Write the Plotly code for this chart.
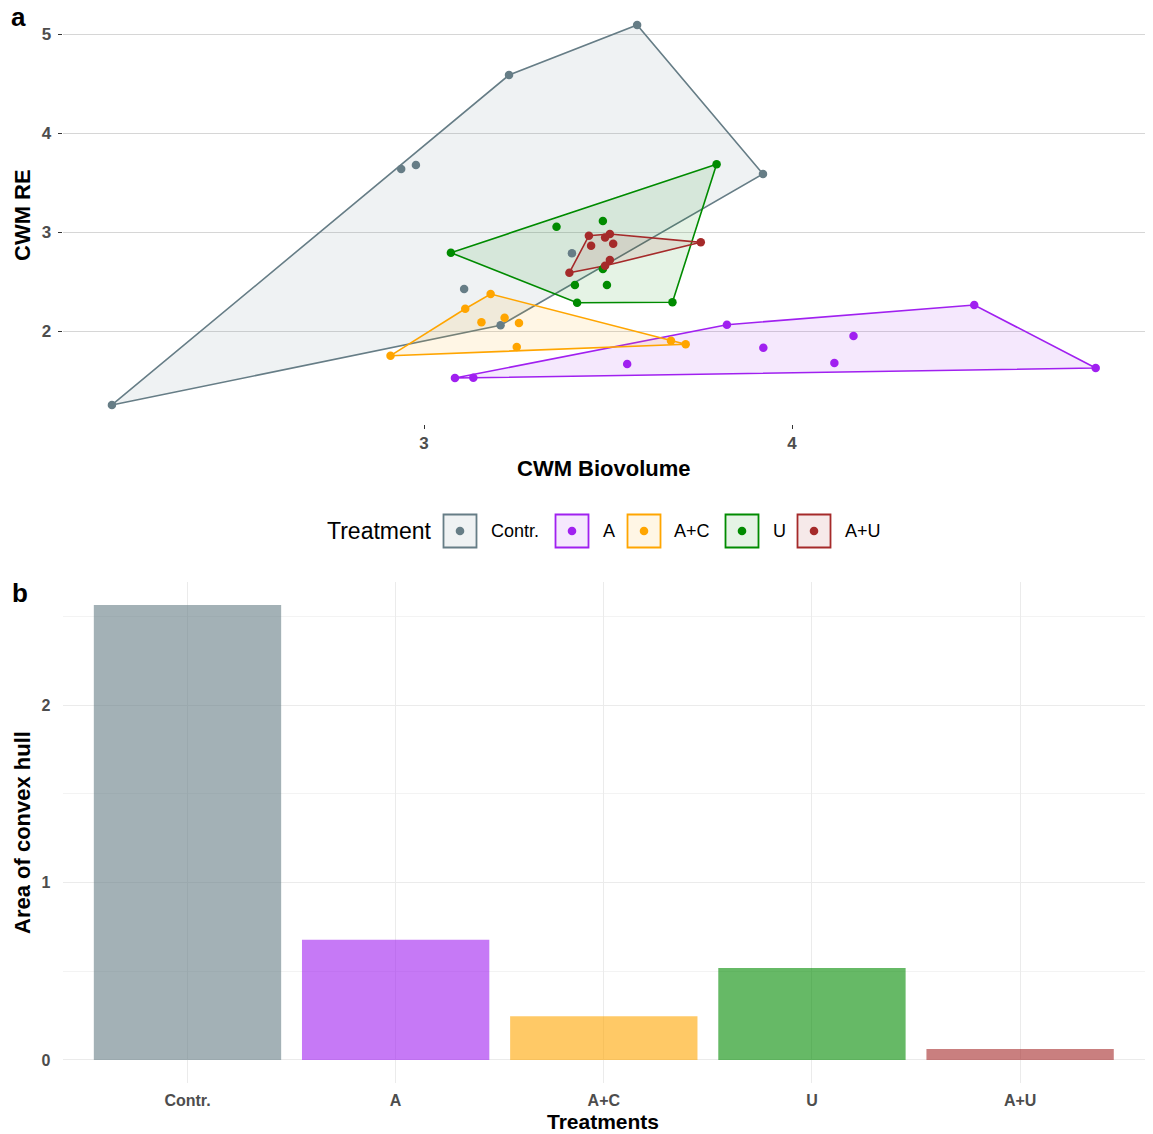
import plotly.graph_objects as go

# ---- data -------------------------------------------------------------
treatments = ["Contr.", "A", "A+C", "U", "A+U"]
colors = ["#667D86", "#A020F0", "#FFA500", "#008B00", "#A52A2A"]

ctrl_x = [2.152, 2.938, 2.978, 3.231, 3.579, 3.921, 3.109, 3.402, 3.208]
ctrl_y = [1.253, 3.636, 3.677, 4.586, 5.091, 3.586, 2.424, 2.785, 2.058]

a_x = [3.084, 3.134, 3.823, 3.552, 3.922, 4.115, 4.167, 4.495, 4.825]
a_y = [1.525, 1.528, 2.064, 1.667, 1.831, 1.677, 1.949, 2.263, 1.626]

ac_x = [2.909, 3.112, 3.181, 3.156, 3.219, 3.258, 3.252, 3.671, 3.711]
ac_y = [1.751, 2.225, 2.374, 2.088, 2.134, 2.081, 1.838, 1.903, 1.866]

u_x = [3.073, 3.795, 3.360, 3.486, 3.410, 3.497, 3.416, 3.675, 3.486]
u_y = [2.791, 3.684, 3.054, 3.111, 2.465, 2.465, 2.286, 2.290, 2.626]

au_x = [3.395, 3.448, 3.505, 3.492, 3.454, 3.514, 3.752, 3.505, 3.492]
au_y = [2.589, 2.963, 2.980, 2.946, 2.862, 2.882, 2.896, 2.717, 2.660]

hull_area = [2.563, 0.677, 0.247, 0.518, 0.062]

groups_x = [ctrl_x, a_x, ac_x, u_x, au_x]
groups_y = [ctrl_y, a_y, ac_y, u_y, au_y]

# ---- helpers ------------------------------------------------------------
W, H = 1153, 1134
FONT = "Liberation Sans, Arial, sans-serif"


def px(x):
    return x / W


def py(y):
    return 1 - y / H


def rgba(hex_color, alpha):
    h = hex_color.lstrip("#")
    r, g, b = int(h[0:2], 16), int(h[2:4], 16), int(h[4:6], 16)
    return f"rgba({r},{g},{b},{alpha})"


def convex_hull(xs, ys):
    pts = sorted(set(zip(xs, ys)))

    def cross(o, a, b):
        return (a[0] - o[0]) * (b[1] - o[1]) - (a[1] - o[1]) * (b[0] - o[0])

    lower, upper = [], []
    for p in pts:
        while len(lower) >= 2 and cross(lower[-2], lower[-1], p) <= 0:
            lower.pop()
        lower.append(p)
    for p in reversed(pts):
        while len(upper) >= 2 and cross(upper[-2], upper[-1], p) <= 0:
            upper.pop()
        upper.append(p)
    hull = lower[:-1] + upper[:-1]
    hull.append(hull[0])
    return [p[0] for p in hull], [p[1] for p in hull]


fig = go.Figure()

# ---- panel a: convex hulls + points -------------------------------------
for name, col, xs, ys in zip(treatments, colors, groups_x, groups_y):
    hx, hy = convex_hull(xs, ys)
    fig.add_trace(go.Scatter(
        x=hx, y=hy, mode="lines", fill="toself",
        fillcolor=rgba(col, 0.1), line=dict(color=col, width=1.6),
        showlegend=False, hoverinfo="skip", xaxis="x", yaxis="y"))
for name, col, xs, ys in zip(treatments, colors, groups_x, groups_y):
    fig.add_trace(go.Scatter(
        x=xs, y=ys, mode="markers", name=name,
        marker=dict(color=col, size=8.5, line=dict(width=0)),
        showlegend=False, xaxis="x", yaxis="y"))

# ---- panel b: bar chart of hull areas ---------------------------------
fig.add_trace(go.Bar(
    x=treatments, y=hull_area, width=0.9,
    marker=dict(color=[rgba(c, 0.6) for c in colors], line=dict(width=0)),
    showlegend=False, xaxis="x2", yaxis="y2"))

tickfont = dict(family=FONT, size=16, color="#4D4D4D", weight="bold")
tickfont_a = dict(family=FONT, size=17, color="#4D4D4D", weight="bold")

fig.update_layout(
    width=W, height=H,
    margin=dict(l=0, r=0, t=0, b=0),
    paper_bgcolor="white", plot_bgcolor="white",
    font=dict(family=FONT),
    xaxis=dict(
        domain=[px(62.6), px(1145)], range=[2.018, 4.959],
        tickvals=[3, 4], ticktext=["3", "4"], tickfont=tickfont_a,
        ticks="outside", ticklen=4, tickwidth=1.2, tickcolor="#333333",
        showgrid=False, zeroline=False, showline=False, anchor="y"),
    yaxis=dict(
        domain=[py(424), py(6)], range=[1.061, 5.283],
        tickvals=[2, 3, 4, 5], ticktext=["2", "3", "4", "5"], tickfont=tickfont_a,
        ticks="outside", ticklen=4, tickwidth=1.2, tickcolor="#333333",
        ticklabelstandoff=3,
        showgrid=True, gridcolor="#D6D6D6", gridwidth=1.3,
        zeroline=False, showline=False, anchor="x"),
    xaxis2=dict(
        domain=[px(62.6), px(1145)], range=[-0.6, 4.6],
        type="category", tickfont=tickfont,
        ticks="outside", ticklen=3, tickcolor="rgba(0,0,0,0)",
        showgrid=True, gridcolor="#EBEBEB", gridwidth=1.3,
        zeroline=False, showline=False, anchor="y2"),
    yaxis2=dict(
        domain=[py(1082.7), py(582.4)], range=[-0.128, 2.691],
        tickvals=[0, 1, 2], ticktext=["0", "1", "2"], tickfont=tickfont,
        ticks="outside", ticklen=8, tickcolor="rgba(0,0,0,0)",
        showgrid=True, gridcolor="#EBEBEB", gridwidth=1.3,
        minor=dict(dtick=0.5, showgrid=True, gridcolor="#F3F3F3", gridwidth=0.8),
        zeroline=False, showline=False, anchor="x2"),
    bargap=0.1,
)

annotations = []
shapes = []

title_font = dict(family=FONT, size=22, color="black", weight="bold")


def text(x, y, s, font, angle=0, xanchor="center"):
    annotations.append(dict(
        x=px(x), y=py(y), xref="paper", yref="paper", text=s,
        showarrow=False, font=font, textangle=angle,
        xanchor=xanchor, yanchor="middle"))


# panel letters
text(18, 17, "a", dict(family=FONT, size=26, color="black", weight="bold"))
text(20, 593, "b", dict(family=FONT, size=26, color="black", weight="bold"))

# axis titles
text(604, 468, "CWM Biovolume", title_font)
text(22, 215, "CWM RE", title_font, angle=-90)
text(603, 1121, "Treatments", dict(family=FONT, size=21, color="black", weight="bold"))
text(22, 833, "Area of convex hull", title_font, angle=-90)

# legend for panel a
text(325, 531, "Treatment", dict(family=FONT, size=23, color="black"), xanchor="left")
box_left = [443.5, 555.5, 627.5, 725.5, 797.5]
label_left = [489, 601, 672, 771, 843]
for name, col, bx, lx in zip(treatments, colors, box_left, label_left):
    shapes.append(dict(
        type="rect", xref="paper", yref="paper",
        x0=px(bx), x1=px(bx + 33), y0=py(547.5), y1=py(514.5),
        fillcolor=rgba(col, 0.1), line=dict(color=col, width=1.8)))
    cx, cy, r = bx + 16.5, 531, 4.3
    shapes.append(dict(
        type="circle", xref="paper", yref="paper",
        x0=px(cx - r), x1=px(cx + r), y0=py(cy + r), y1=py(cy - r),
        fillcolor=col, line=dict(width=0)))
    text(lx, 531, name, dict(family=FONT, size=18, color="black"), xanchor="left")

fig.update_layout(annotations=annotations, shapes=shapes)

fig.write_html("out.html")
